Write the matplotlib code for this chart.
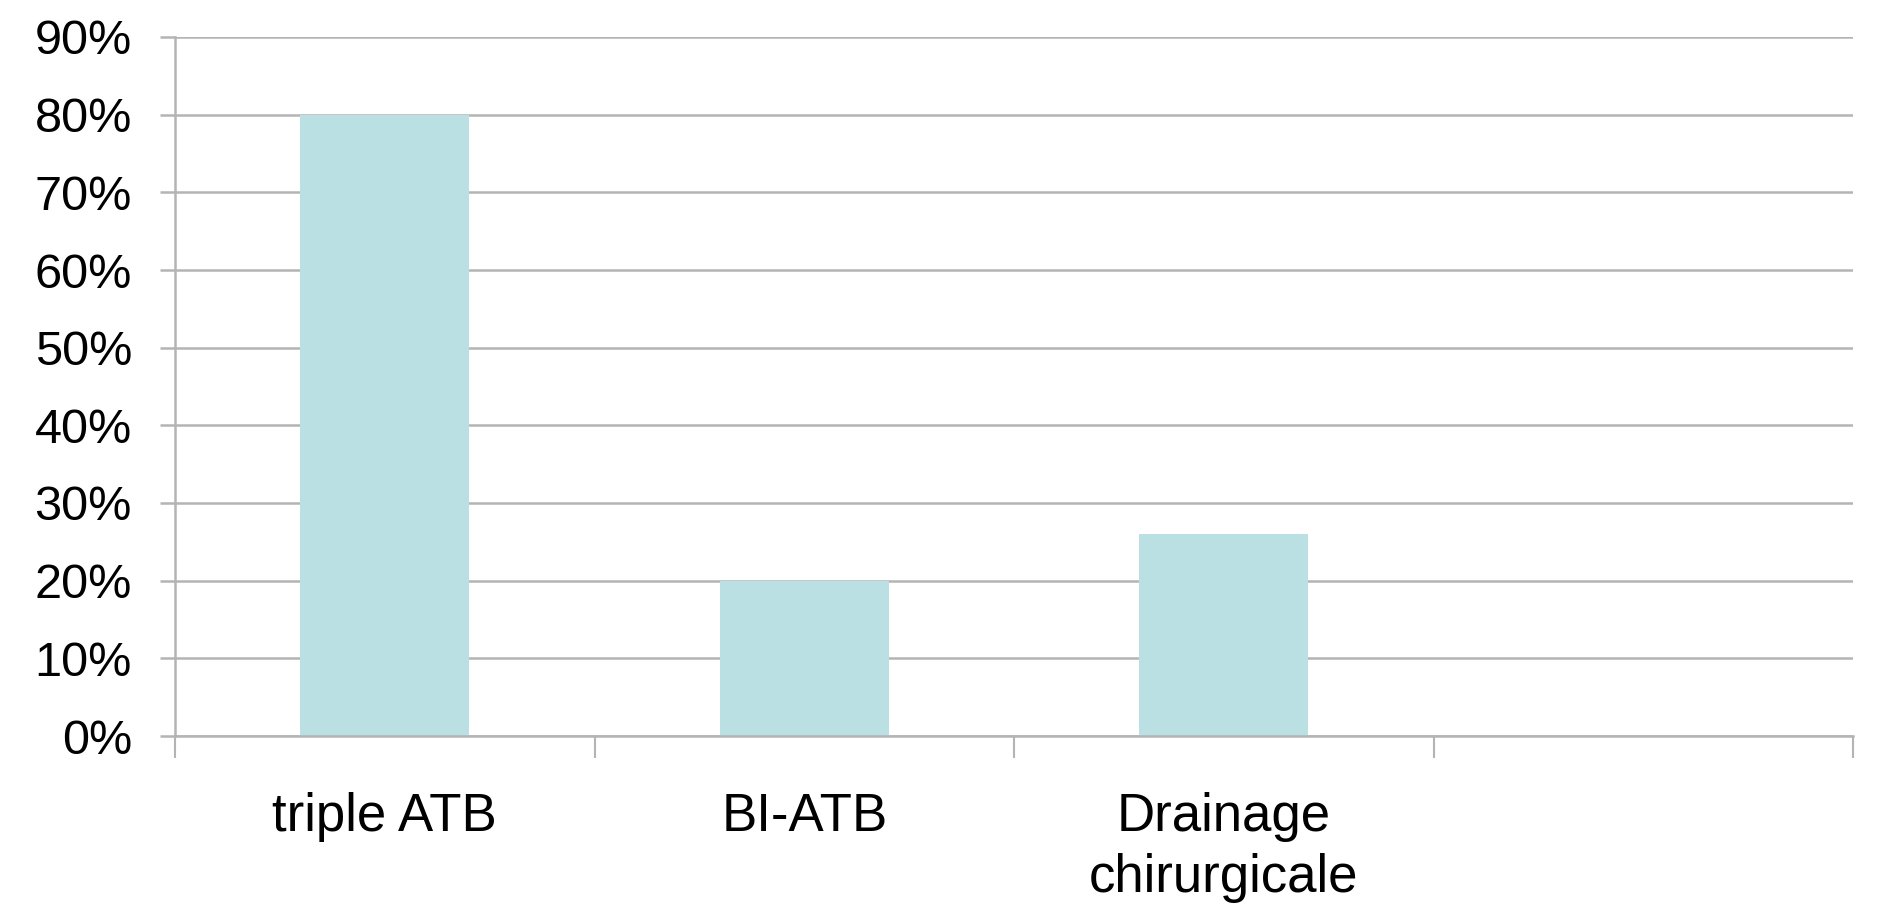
import numpy as np
import matplotlib
matplotlib.use("Agg")
import matplotlib.pyplot as plt
from matplotlib.ticker import FuncFormatter

categories = ["triple ATB", "BI-ATB", "Drainage\nchirurgicale", ""]
values = [0.80, 0.20, 0.26, np.nan]
yticks = [0.0, 0.1, 0.2, 0.3, 0.4, 0.5, 0.6, 0.7, 0.8, 0.9]

plt.rcParams["font.family"] = ["Liberation Sans", "DejaVu Sans"]

W, H = 1885, 906
fig = plt.figure(figsize=(W / 100, H / 100), dpi=100)
ax = fig.add_axes([175 / W, (H - 736) / H, (1853 - 175) / W, (736 - 37) / H])

grid_c = "#b4b4b4"
x = np.arange(len(categories))
ax.bar(x, values, width=0.403, color="#bae0e3", zorder=2)

ax.set_xlim(-0.5, len(categories) - 0.5)
ax.set_ylim(0, 0.9)
ax.set_yticks(yticks)
ax.yaxis.set_major_formatter(FuncFormatter(lambda v, _: f"{v * 100:.0f}%"))
ax.yaxis.grid(True, color=grid_c, linewidth=1.8, zorder=0)
ax.tick_params(axis="y", length=11, width=1.8, color=grid_c, labelsize=35, pad=20)

# category boundaries get the ticks, centres get the labels
ax.set_xticks(np.arange(len(categories) + 1) - 0.5)
ax.set_xticklabels([])
ax.set_xticks(x, minor=True)
ax.set_xticklabels(categories, minor=True, linespacing=1.3)
ax.tick_params(axis="x", which="major", length=16, width=1.5, color=grid_c)
ax.tick_params(axis="x", which="minor", length=0, labelsize=38, pad=40)

for s in ("top", "right"):
    ax.spines[s].set_visible(False)
for s in ("left", "bottom"):
    ax.spines[s].set_color(grid_c)
    ax.spines[s].set_linewidth(1.8)

fig.savefig("out.png", dpi=100)
